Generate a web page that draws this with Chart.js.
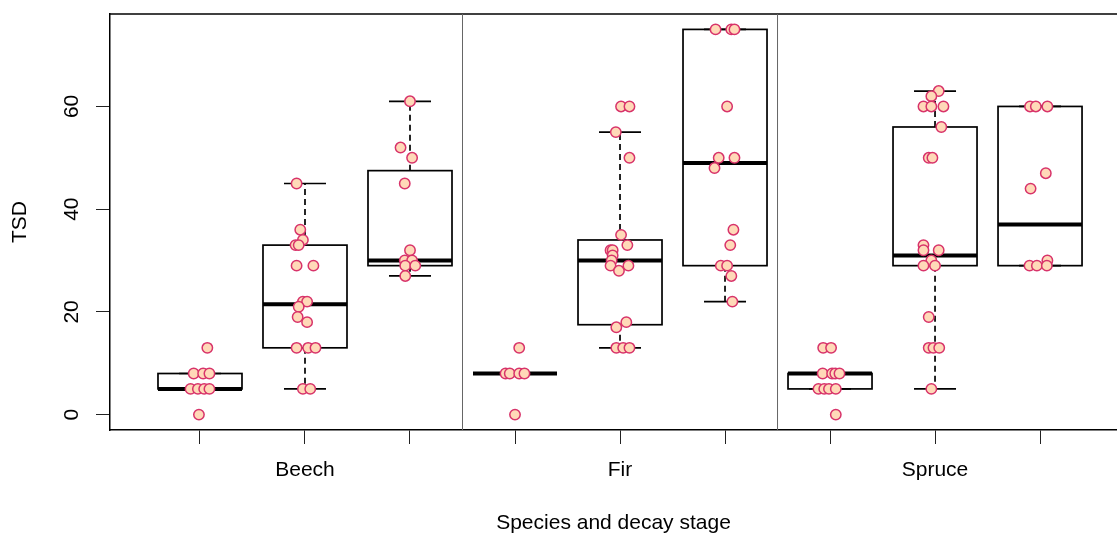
<!DOCTYPE html>
<html>
<head>
<meta charset="utf-8">
<title>TSD by species and decay stage</title>
<script src="https://cdn.jsdelivr.net/npm/chart.js@4.4.1/dist/chart.umd.min.js"></script>
<style>
  body { margin: 0; background: #fff; overflow: hidden; }
  canvas { display: block; }
</style>
</head>
<body>
<canvas id="myChart" width="1117" height="534"></canvas>
<script>
// one box per species x decay stage (3 stages each)
const tickLabels = ["", "Beech", "", "", "Fir", "", "", "Spruce", ""];
const boxPos = [1, 2, 3, 4, 5, 6, 7, 8, 9];
const groupBreaks = [3.5, 6.5];
const yTicks = [0, 20, 40, 60];

// box statistics
const whiskLow = [5, 5, 27, 8, 13, 22, 5, 5, 29];
const q1 = [5, 13, 29, 8, 17.5, 29, 5, 29, 29];
const med = [5, 21.5, 30, 8, 30, 49, 8, 31, 37];
const q3 = [8, 33, 47.5, 8, 34, 75, 8, 56, 60];
const whiskHigh = [8, 45, 61, 8, 55, 75, 8, 63, 60];

// single logs (values) and their horizontal jitter around the box
const obsValues = [
  [13, 8, 8, 8, 5, 5, 5, 5, 0],
  [45, 36, 34, 33, 33, 29, 29, 22, 22, 21, 19, 18, 13, 13, 13, 5, 5],
  [61, 52, 50, 45, 32, 30, 30, 29, 29, 27],
  [13, 8, 8, 8, 8, 0],
  [60, 60, 55, 50, 35, 33, 32, 32, 31, 30, 29, 29, 28, 18, 17, 13, 13, 13],
  [75, 75, 75, 60, 50, 50, 48, 36, 33, 29, 29, 27, 22],
  [13, 13, 8, 8, 8, 8, 5, 5, 5, 5, 0],
  [63, 62, 60, 60, 60, 56, 50, 50, 33, 32, 32, 30, 29, 29, 19, 13, 13, 13, 5],
  [60, 60, 60, 47, 44, 30, 29, 29, 29]
];
const obsJitter = [
  [0.07, -0.06, 0.03, 0.09, -0.09, -0.02, 0.04, 0.09, -0.01],
  [-0.08, -0.045, -0.02, -0.09, -0.06, -0.08, 0.08, -0.02, 0.02, -0.06, -0.07, 0.02, -0.08, 0.03, 0.1, -0.02, 0.05],
  [0, -0.09, 0.02, -0.05, 0, -0.05, 0.02, -0.045, 0.05, -0.045],
  [0.04, -0.09, -0.05, 0.04, 0.09, 0],
  [0.01, 0.09, -0.04, 0.09, 0.01, 0.07, -0.09, -0.07, -0.07, -0.08, -0.09, 0.08, -0.01, 0.06, -0.035, -0.035, 0.03, 0.09],
  [-0.09, 0.06, 0.09, 0.02, -0.06, 0.09, -0.1, 0.08, 0.05, -0.04, 0.02, 0.06, 0.07],
  [-0.065, 0.01, -0.07, 0.02, 0.05, 0.09, -0.11, -0.055, -0.01, 0.055, 0.055],
  [0.035, -0.035, -0.11, -0.035, 0.08, 0.06, -0.06, -0.025, -0.11, -0.11, 0.035, -0.035, -0.11, 0, -0.06, -0.06, -0.015, 0.04, -0.035],
  [-0.095, -0.04, 0.07, 0.055, -0.09, 0.07, -0.1, -0.03, 0.065]
];

// points for the scatter dataset
const points = [];
boxPos.forEach(function (p, i) {
  obsValues[i].forEach(function (v, j) {
    points.push({ x: p + obsJitter[i][j], y: v });
  });
});

// boxes, whiskers, frame top and group separators
const boxPlugin = {
  id: "boxes",
  beforeDatasetsDraw(chart) {
    const ctx = chart.ctx;
    const xs = chart.scales.x;
    const ys = chart.scales.y;
    const area = chart.chartArea;
    const line = function (x1, y1, x2, y2) {
      ctx.beginPath();
      ctx.moveTo(x1, y1);
      ctx.lineTo(x2, y2);
      ctx.stroke();
    };
    ctx.save();

    ctx.strokeStyle = "#000";
    ctx.lineWidth = 1.5;
    line(area.left, area.top, area.right, area.top);

    ctx.strokeStyle = "#666";
    ctx.lineWidth = 1;
    groupBreaks.forEach(function (b) {
      const px = xs.getPixelForValue(b);
      line(px, area.top, px, area.bottom);
    });

    ctx.strokeStyle = "#000";
    boxPos.forEach(function (p, i) {
      const c = xs.getPixelForValue(p);
      const l = xs.getPixelForValue(p - 0.4);
      const r = xs.getPixelForValue(p + 0.4);
      const cl = xs.getPixelForValue(p - 0.2);
      const cr = xs.getPixelForValue(p + 0.2);
      const yLo = ys.getPixelForValue(whiskLow[i]);
      const yQ1 = ys.getPixelForValue(q1[i]);
      const yMed = ys.getPixelForValue(med[i]);
      const yQ3 = ys.getPixelForValue(q3[i]);
      const yHi = ys.getPixelForValue(whiskHigh[i]);

      ctx.lineWidth = 1.7;
      ctx.setLineDash([6, 4]);
      if (yHi < yQ3) line(c, yQ3, c, yHi);
      if (yLo > yQ1) line(c, yQ1, c, yLo);
      ctx.setLineDash([]);
      line(cl, yHi, cr, yHi);
      line(cl, yLo, cr, yLo);
      ctx.strokeRect(l, yQ3, r - l, yQ1 - yQ3);

      ctx.lineWidth = 4;
      line(l, yMed, r, yMed);
    });
    ctx.restore();
  }
};

Chart.defaults.font.family = "'Liberation Sans', Arial, sans-serif";
Chart.defaults.font.size = 21;
Chart.defaults.color = "#000";

const chart = function () {
  const ctx = document.getElementById("myChart");

  new Chart(ctx, {
    type: "scatter",
    data: {
      datasets: [
        {
          data: points,
          pointRadius: 5.2,
          pointHoverRadius: 5.2,
          borderWidth: 1.5,
          backgroundColor: "#FFD9B8",
          borderColor: "#D8336A",
        },
      ],
    },
    options: {
      responsive: false,
      animation: false,
      devicePixelRatio: 1,
      layout: { autoPadding: false, padding: { top: 14, left: 0, right: 0, bottom: 0 } },
      plugins: {
        legend: { display: false },
        tooltip: { enabled: false },
      },
      scales: {
        x: {
          type: "linear",
          min: 0.143,
          max: 9.733,
          afterBuildTicks: function (scale) {
            scale.ticks = boxPos.map(function (v) { return { value: v }; });
          },
          afterFit: function (scale) {
            scale.height = 104;
            scale.paddingLeft = 0;
            scale.paddingRight = 0;
          },
          ticks: {
            autoSkip: false,
            maxRotation: 0,
            padding: 14,
            callback: function (value) {
              return tickLabels[boxPos.indexOf(value)];
            },
          },
          grid: {
            drawOnChartArea: false,
            tickLength: 14,
            tickColor: "#222",
            lineWidth: 1,
          },
          border: { color: "#000", width: 1.5 },
          title: {
            display: true,
            text: "Species and decay stage",
            font: { size: 21, lineHeight: 1 },
            padding: { top: 0, bottom: 0 },
          },
        },
        y: {
          min: -3,
          max: 78,
          afterBuildTicks: function (scale) {
            scale.ticks = yTicks.map(function (v) { return { value: v }; });
          },
          afterFit: function (scale) {
            scale.width = 110;
            scale.paddingTop = 0;
            scale.paddingBottom = 0;
          },
          ticks: {
            autoSkip: false,
            minRotation: 90,
            maxRotation: 90,
            crossAlign: "center",
            padding: 12,
          },
          grid: {
            drawOnChartArea: false,
            tickLength: 14,
            tickColor: "#222",
            lineWidth: 1,
          },
          border: { color: "#000", width: 1.5 },
          title: {
            display: true,
            text: "TSD",
            font: { size: 21, lineHeight: 1 },
            padding: { top: 10, bottom: 0 },
          },
        },
      },
    },
    plugins: [boxPlugin],
  });
};
chart();
</script>
</body>
</html>
